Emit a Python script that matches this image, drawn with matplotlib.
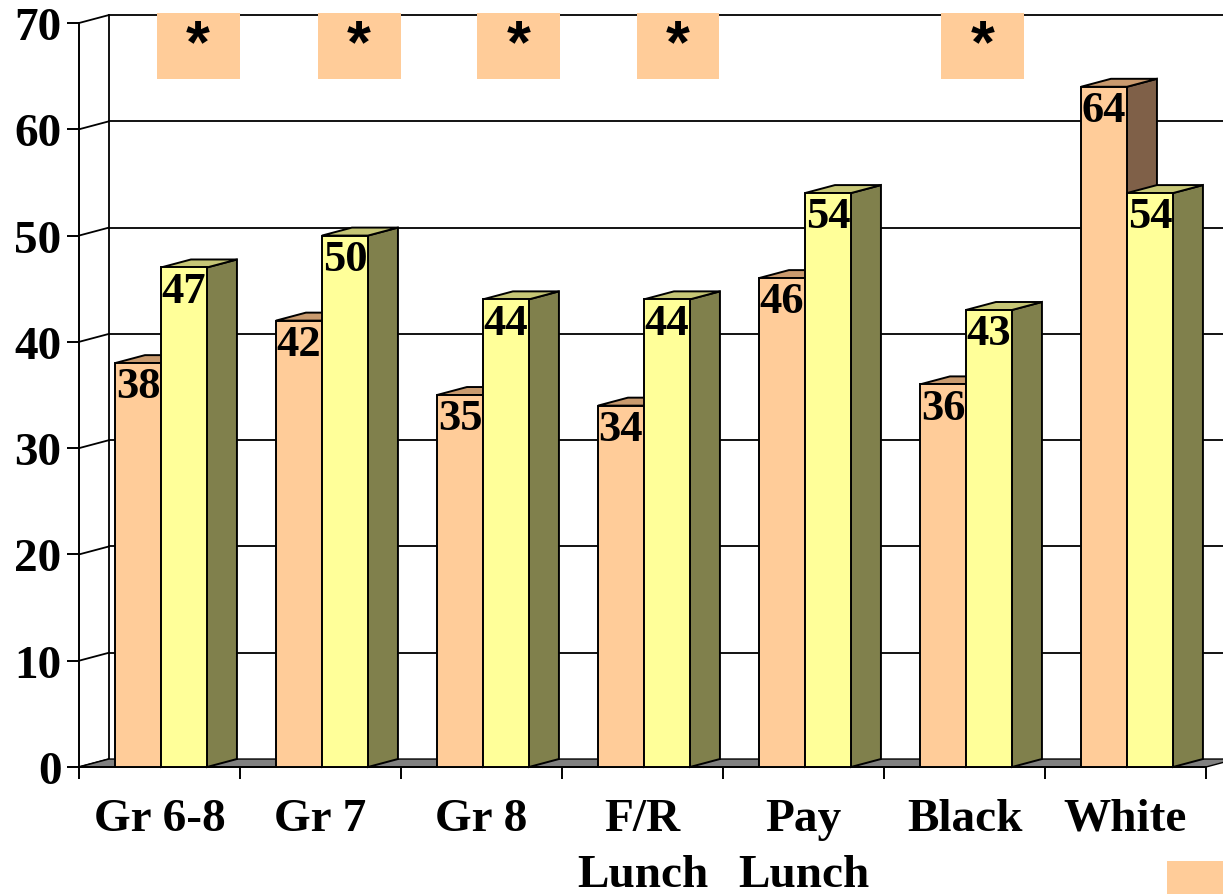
import numpy as np
import matplotlib
matplotlib.use("Agg")
import matplotlib.pyplot as plt
from matplotlib.patches import Polygon, Rectangle

# ---- data ----------------------------------------------------------------
categories = ["Gr 6-8", "Gr 7", "Gr 8", "F/R\nLunch", "Pay\nLunch", "Black", "White"]
series_a = [38, 42, 35, 34, 46, 36, 64]   # orange bars
series_b = [47, 50, 44, 44, 54, 43, 54]   # yellow bars
star_x = [0.74, 1.74, 2.73, 3.72, 5.61]   # significance boxes (category units)
yticks = list(range(0, 71, 10))

# ---- style ---------------------------------------------------------------
W, H = 1223, 895
FONT = "Liberation Serif"
ORANGE = dict(front="#FFCC99", top="#C99A6E", side="#7F6048")
YELLOW = dict(front="#FFFF99", top="#C6C676", side="#80804C")
DX, DY = 0.186, 0.75          # pseudo 3d depth offset
OFF, BW = 0.2236, 0.2857      # bar start within category, bar width
LW = 1.4

fig = plt.figure(figsize=(W / 100, H / 100), dpi=100)
ax = fig.add_axes([79 / W, 127 / H, 1144 / W, 744 / H])
ax.set_xlim(0, 1144 / 161)
ax.set_ylim(0, 70)
ax.patch.set_visible(False)
for s in ["top", "right"]:
    ax.spines[s].set_visible(False)
ax.spines["left"].set_linewidth(LW)
ax.spines["bottom"].set_linewidth(LW)
ax.spines["bottom"].set_bounds(0, len(categories))

ax.set_yticks(yticks)
ax.set_yticklabels([str(v) for v in yticks], fontfamily=FONT, fontweight="bold", fontsize=34)
ax.tick_params(axis="y", direction="out", length=8.6, width=LW, pad=4)

ax.set_xticks(np.arange(len(categories) + 1))
ax.set_xticklabels([])
ax.tick_params(axis="x", which="major", direction="out", length=8.6, width=LW)
ax.set_xticks(np.arange(len(categories)) + 0.5, minor=True)
ax.set_xticklabels(categories, minor=True, fontfamily=FONT, fontweight="bold",
                   fontsize=34, linespacing=1.45)
ax.tick_params(axis="x", which="minor", length=0, pad=22)

# ---- walls, grid, floor --------------------------------------------------
xr = ax.get_xlim()[1] + 1
for v in yticks:
    ax.plot([0, DX], [v, v + DY], color="black", lw=1.3, clip_on=False, zorder=1)
    if v > 0:
        ax.plot([DX, xr], [v + DY, v + DY], color="black", lw=1.3, clip_on=False, zorder=1)
ax.plot([DX, DX], [DY, 70 + DY], color="black", lw=1.3, clip_on=False, zorder=1)

n = len(categories)
ax.add_patch(Polygon([(0, 0), (n, 0), (n + DX, DY), (DX, DY)], closed=True,
                     facecolor="#808080", edgecolor="black", lw=1.0, clip_on=False, zorder=2))


def bar3d(x0, v, col):
    kw = dict(closed=True, edgecolor="black", lw=LW, clip_on=False, zorder=4)
    ax.add_patch(Polygon([(x0 + BW, 0), (x0 + BW + DX, DY), (x0 + BW + DX, v + DY), (x0 + BW, v)],
                         facecolor=col["side"], **kw))
    ax.add_patch(Polygon([(x0, v), (x0 + BW, v), (x0 + BW + DX, v + DY), (x0 + DX, v + DY)],
                         facecolor=col["top"], **kw))
    ax.add_patch(Polygon([(x0, 0), (x0 + BW, 0), (x0 + BW, v), (x0, v)],
                         facecolor=col["front"], **kw))
    ax.text(x0 + BW / 2, v - 2.2, str(v), ha="center", va="center", fontfamily=FONT,
            fontweight="bold", fontsize=32, color="black", zorder=5, clip_on=False)


for i in range(n):
    bar3d(i + OFF, series_a[i], ORANGE)
    bar3d(i + OFF + BW, series_b[i], YELLOW)

# ---- significance markers ------------------------------------------------
for sx in star_x:
    ax.add_patch(Rectangle((sx - 0.257, 64.73), 0.515, 6.2, facecolor="#FFCC99",
                           edgecolor="none", clip_on=False, zorder=3))
    ax.text(sx, 67.9, "*", ha="center", va="center", fontfamily="Liberation Sans",
            fontweight="bold", fontsize=44, color="black", zorder=5, clip_on=False)

# partial box at lower right corner
fig.add_artist(Rectangle((1167 / W, 0), 1, 33 / H, transform=fig.transFigure,
                         facecolor="#FFCC99", edgecolor="none"))

fig.savefig("out.png", dpi=100)
